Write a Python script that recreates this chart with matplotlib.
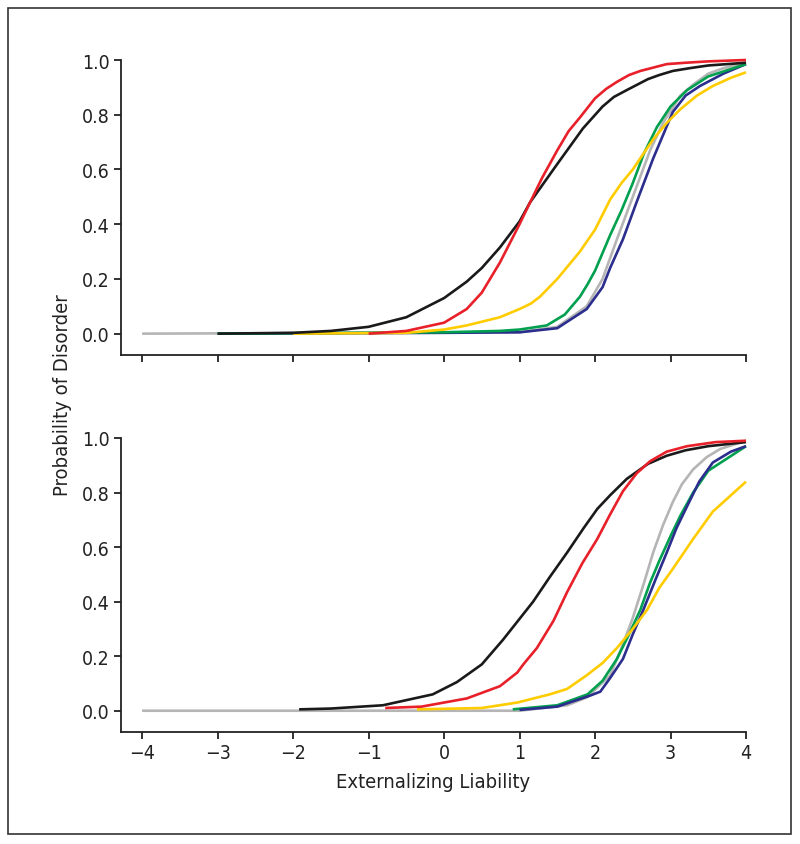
import matplotlib
matplotlib.use("Agg")
import matplotlib.pyplot as plt
from matplotlib.patches import Rectangle

plt.rcParams["font.family"] = ["Liberation Sans Narrow", "DejaVu Sans"]
plt.rcParams["font.stretch"] = "condensed"

# ---- data ----
# top panel
black_top_x = [-3.0, -2.0, -1.5, -1.0, -0.5, 0.0, 0.3, 0.5, 0.74, 1.0, 1.14, 1.5, 1.84, 2.1, 2.25, 2.42, 2.7, 2.85, 3.03, 3.25, 3.5, 4.0]
black_top_y = [0.0, 0.003, 0.01, 0.025, 0.06, 0.13, 0.19, 0.24, 0.315, 0.41, 0.48, 0.62, 0.75, 0.83, 0.865, 0.89, 0.93, 0.945, 0.96, 0.97, 0.98, 0.99]
red_top_x = [-1.0, -0.5, 0.0, 0.3, 0.5, 0.74, 1.0, 1.14, 1.3, 1.5, 1.65, 1.8, 2.0, 2.15, 2.29, 2.45, 2.6, 2.95, 3.2, 3.5, 4.0]
red_top_y = [0.0, 0.01, 0.04, 0.09, 0.15, 0.26, 0.40, 0.48, 0.57, 0.67, 0.74, 0.79, 0.86, 0.895, 0.92, 0.945, 0.96, 0.985, 0.99, 0.995, 1.0]
yellow_top_x = [-2.0, -0.5, 0.0, 0.3, 0.74, 1.0, 1.15, 1.27, 1.5, 1.8, 2.0, 2.2, 2.35, 2.5, 2.77, 2.95, 3.13, 3.35, 3.56, 3.8, 4.0]
yellow_top_y = [0.0, 0.003, 0.015, 0.03, 0.06, 0.09, 0.11, 0.135, 0.20, 0.30, 0.38, 0.49, 0.55, 0.60, 0.71, 0.77, 0.82, 0.87, 0.905, 0.935, 0.955]
green_top_x = [-3.0, 0.0, 0.74, 1.0, 1.36, 1.6, 1.8, 1.9, 2.0, 2.2, 2.35, 2.5, 2.65, 2.82, 3.0, 3.22, 3.5, 4.0]
green_top_y = [0.0, 0.005, 0.01, 0.015, 0.03, 0.07, 0.135, 0.18, 0.23, 0.36, 0.45, 0.55, 0.66, 0.755, 0.83, 0.89, 0.94, 0.985]
gray_top_x = [-4.0, 1.0, 1.5, 1.89, 2.1, 2.29, 2.5, 2.73, 2.9, 3.13, 3.3, 3.5, 3.7, 4.0]
gray_top_y = [0.0, 0.005, 0.025, 0.10, 0.20, 0.345, 0.50, 0.67, 0.77, 0.87, 0.91, 0.95, 0.97, 0.99]
blue_top_x = [-3.0, 0.0, 1.0, 1.5, 1.89, 2.1, 2.2, 2.37, 2.55, 2.77, 3.03, 3.2, 3.39, 3.7, 4.0]
blue_top_y = [0.0, 0.003, 0.005, 0.02, 0.09, 0.17, 0.24, 0.345, 0.48, 0.64, 0.81, 0.87, 0.905, 0.95, 0.985]

# bottom panel
black_bot_x = [-1.92, -1.5, -0.81, -0.15, 0.17, 0.5, 0.78, 1.18, 1.4, 1.63, 1.85, 2.03, 2.2, 2.42, 2.7, 2.95, 3.2, 3.5, 4.0]
black_bot_y = [0.005, 0.008, 0.02, 0.06, 0.105, 0.17, 0.26, 0.40, 0.49, 0.58, 0.67, 0.74, 0.79, 0.85, 0.905, 0.935, 0.955, 0.97, 0.985]
red_bot_x = [-0.78, -0.3, 0.3, 0.74, 0.97, 1.05, 1.23, 1.45, 1.63, 1.83, 2.03, 2.2, 2.37, 2.55, 2.73, 2.95, 3.22, 3.6, 4.0]
red_bot_y = [0.01, 0.015, 0.045, 0.09, 0.14, 0.17, 0.23, 0.33, 0.435, 0.54, 0.63, 0.72, 0.805, 0.87, 0.915, 0.95, 0.97, 0.985, 0.99]
yellow_bot_x = [-0.36, 0.5, 0.97, 1.4, 1.63, 1.89, 2.1, 2.29, 2.5, 2.69, 2.85, 3.03, 3.3, 3.56, 3.8, 4.0]
yellow_bot_y = [0.005, 0.01, 0.03, 0.06, 0.08, 0.13, 0.175, 0.23, 0.30, 0.37, 0.45, 0.52, 0.63, 0.73, 0.79, 0.84]
green_bot_x = [0.91, 1.5, 1.9, 2.1, 2.29, 2.45, 2.6, 2.73, 2.86, 3.0, 3.13, 3.3, 3.5, 4.0]
green_bot_y = [0.005, 0.02, 0.06, 0.11, 0.19, 0.28, 0.37, 0.47, 0.555, 0.64, 0.715, 0.80, 0.88, 0.97]
gray_bot_x = [-4.0, 1.0, 1.63, 1.9, 2.2, 2.35, 2.5, 2.65, 2.77, 2.9, 3.03, 3.15, 3.3, 3.48, 3.66, 4.0]
gray_bot_y = [0.0, 0.0, 0.02, 0.05, 0.13, 0.23, 0.34, 0.47, 0.58, 0.68, 0.765, 0.83, 0.885, 0.93, 0.96, 0.99]
blue_bot_x = [1.0, 1.5, 1.93, 2.07, 2.2, 2.37, 2.5, 2.64, 2.8, 2.95, 3.08, 3.22, 3.38, 3.56, 3.8, 4.0]
blue_bot_y = [0.003, 0.015, 0.055, 0.07, 0.12, 0.19, 0.28, 0.37, 0.48, 0.58, 0.67, 0.75, 0.84, 0.91, 0.95, 0.97]

x_ticks = [-4, -3, -2, -1, 0, 1, 2, 3, 4]
y_ticks = [0.0, 0.2, 0.4, 0.6, 0.8, 1.0]

colors = {
    "gray": "#b5b5b5",
    "blue": "#2b2e8c",
    "green": "#00a04f",
    "yellow": "#ffcc00",
    "black": "#1a1a1a",
    "red": "#e8202a",
}

top = [
    (gray_top_x, gray_top_y, "gray"),
    (blue_top_x, blue_top_y, "blue"),
    (green_top_x, green_top_y, "green"),
    (yellow_top_x, yellow_top_y, "yellow"),
    (black_top_x, black_top_y, "black"),
    (red_top_x, red_top_y, "red"),
]
bottom = [
    (gray_bot_x, gray_bot_y, "gray"),
    (green_bot_x, green_bot_y, "green"),
    (blue_bot_x, blue_bot_y, "blue"),
    (yellow_bot_x, yellow_bot_y, "yellow"),
    (black_bot_x, black_bot_y, "black"),
    (red_bot_x, red_bot_y, "red"),
]

fig = plt.figure(figsize=(8.0, 8.45), dpi=100)
ax_top = fig.add_axes([121 / 800, 1 - 356 / 845, 625 / 800, 295 / 845])
ax_bot = fig.add_axes([121 / 800, 1 - 733 / 845, 625 / 800, 294 / 845])

for ax, series in [(ax_top, top), (ax_bot, bottom)]:
    for xs, ys, c in series:
        ax.plot(xs, ys, color=colors[c], lw=1.9, clip_on=False,
                solid_capstyle="butt", solid_joinstyle="round")
    ax.set_xlim(-4.28, 4.0)
    ax.set_ylim(-0.078, 1.0)
    ax.spines["top"].set_visible(False)
    ax.spines["right"].set_visible(False)
    for s in ("left", "bottom"):
        ax.spines[s].set_linewidth(1.3)
        ax.spines[s].set_color("#222222")
    ax.spines["left"].set_bounds(-0.078, 1.0)
    ax.set_xticks(x_ticks)
    ax.set_yticks(y_ticks)
    ax.set_yticklabels([f"{v:.1f}" for v in y_ticks])
    ax.tick_params(direction="out", length=5, width=1.3, labelsize=14,
                   colors="#222222", pad=3)

ax_top.set_xticklabels([])
ax_bot.set_xticklabels(["\u2212" + str(-t) if t < 0 else str(t) for t in x_ticks])

fig.text(63 / 800, 1 - 395 / 845, "Probability of Disorder", rotation=90,
         ha="center", va="center", fontsize=14.5, color="#222222")
fig.text(433 / 800, 1 - 783 / 845, "Externalizing Liability",
         ha="center", va="center", fontsize=14.5, color="#222222")

fig.patches.append(Rectangle((8 / 800, 1 - 835 / 845), 783 / 800, 826 / 845,
                             transform=fig.transFigure, fill=False,
                             edgecolor="#333333", lw=1.2))

fig.savefig("out.png", dpi=100)
